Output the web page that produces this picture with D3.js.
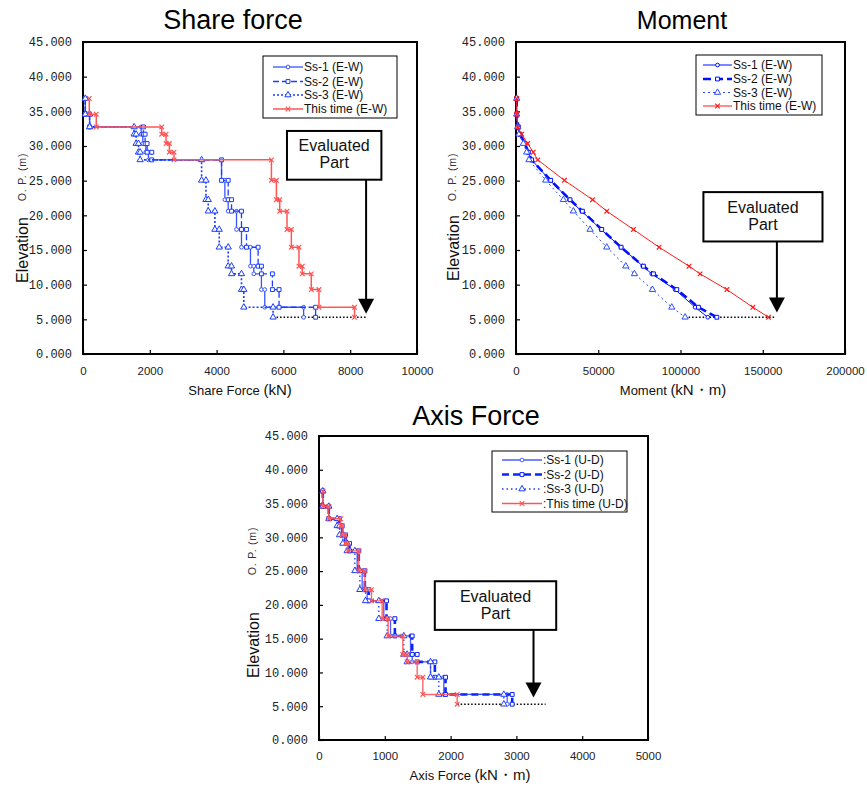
<!DOCTYPE html>
<html><head><meta charset="utf-8">
<script src="https://cdn.jsdelivr.net/npm/d3@7"></script>
<style>body{margin:0;background:#fff}svg{display:block}</style>
</head><body>
<script>
// ---------- DATA ----------
const levels = [36.85, 34.58, 32.75, 31.70, 30.35, 29.10, 28.00, 25.05, 22.25, 20.60, 17.96, 15.40, 12.67, 11.56, 9.29, 6.74, 5.30];
const elevTicks = [0, 5, 10, 15, 20, 25, 30, 35, 40, 45];

// Share force (kN) per storey segment (levels[i] -> levels[i+1])
const shearSs1 = [69, 198, 1740, 1790, 1880, 1960, 4148, 4248, 4347, 4596, 4745, 5014, 5114, 5342, 5442, 6606];
const shearSs2 = [69, 198, 1810, 1860, 1920, 2059, 4148, 4347, 4447, 4745, 4895, 5243, 5342, 5671, 5870, 6964];
const shearSs3 = [69, 198, 1531, 1591, 1661, 1711, 3551, 3681, 3750, 3949, 4079, 4347, 4447, 4745, 4815, 5691];
const shearNow = [188, 397, 2357, 2487, 2586, 2725, 5641, 5790, 5890, 6108, 6238, 6466, 6566, 6835, 7064, 8129];
const shearTicks = [0, 2000, 4000, 6000, 8000, 10000];

// Moment (kN·m) at each level
const momSs1 = [405, 405, 1014, 1825, 5069, 7097, 9530, 20682, 32440, 39946, 51707, 63875, 77057, 82532, 96727, 108895, 116600];
const momSs2 = [405, 405, 1420, 2433, 5475, 7502, 9530, 21087, 32846, 40352, 52113, 63875, 77462, 83545, 97741, 110922, 122075];
const momSs3 = [405, 405, 1014, 1825, 4460, 6488, 7908, 18046, 28790, 34873, 45016, 55155, 66714, 71987, 82937, 94700, 102811];
const momNow = [400, 400, 1000, 3450, 7100, 10500, 13200, 29400, 46600, 55200, 71400, 87000, 105200, 111900, 128200, 144000, 153500];
const momentTicks = [0, 50000, 100000, 150000, 200000];

// Axis force per storey segment
const axSs1 = [58, 149, 301, 342, 393, 453, 580, 656, 732, 985, 1087, 1391, 1416, 1695, 1897, 2860];
const axSs2 = [58, 149, 312, 352, 403, 464, 605, 697, 757, 1026, 1153, 1416, 1492, 1761, 1923, 2936];
const axSs3 = [58, 149, 276, 312, 362, 428, 545, 621, 707, 909, 1036, 1289, 1340, 1695, 1821, 2809];
const axNow = [58, 149, 327, 352, 403, 438, 605, 697, 798, 960, 1051, 1274, 1340, 1492, 1578, 2100];
const axialTicks = [0, 1000, 2000, 3000, 4000, 5000];

const namesEW = ["Ss-1 (E-W)", "Ss-2 (E-W)", "Ss-3 (E-W)", "This time (E-W)"];
const namesUD = [":Ss-1 (U-D)", ":Ss-2 (U-D)", ":Ss-3 (U-D)", ":This time (U-D)"];
const noteLines = ["Evaluated", "Part"];

// ---------- DRAWING ----------
const svg = d3.select("body").append("svg").attr("width", 867).attr("height", 786);
svg.append("rect").attr("width", 867).attr("height", 786).attr("fill", "#fff");
const SANS = "'Liberation Sans', Arial, sans-serif";
const MONO = "'Liberation Mono', 'DejaVu Sans Mono', monospace";

function staircase(vals) {
  const pts = [];
  vals.forEach((v, i) => { pts.push([v, levels[i]]); pts.push([v, levels[i + 1]]); });
  return pts;
}
function profile(vals) { return vals.map((v, i) => [v, levels[i]]); }

function marker(g, type, color, cx, cy) {
  if (type === "cross") {
    const s = 2.3;
    g.append("path").attr("d", `M${cx - s},${cy - s}L${cx + s},${cy + s}M${cx - s},${cy + s}L${cx + s},${cy - s}`)
      .attr("stroke", color).attr("stroke-width", 1.2).attr("fill", "none");
  } else {
    const sym = type === "circle" ? d3.symbolCircle : type === "square" ? d3.symbolSquare : d3.symbolTriangle;
    const size = type === "circle" ? 11 : type === "square" ? 15 : 17;
    g.append("path").attr("d", d3.symbol().type(sym).size(size)())
      .attr("transform", `translate(${cx},${cy})`)
      .attr("fill", "#fff").attr("stroke", color).attr("stroke-width", 1);
  }
}

function drawChart(cfg) {
  const x = d3.scaleLinear().domain([0, cfg.xmax]).range([cfg.l, cfg.r]);
  const y = d3.scaleLinear().domain([0, 45]).range([cfg.b, cfg.t]);
  const g = svg.append("g");

  // axes
  const xa = g.append("g").attr("transform", `translate(0,${cfg.b})`)
    .call(d3.axisBottom(x).tickValues(cfg.ticks).tickSizeInner(-4).tickSizeOuter(0).tickPadding(cfg.xPad).tickFormat(d3.format("d")));
  xa.select(".domain").remove();
  xa.selectAll("line").attr("stroke", "#000").attr("stroke-width", 1.2);
  xa.selectAll("text").attr("font-family", SANS).attr("font-size", 11.5).attr("fill", "#222");
  const ya = g.append("g").attr("transform", `translate(${cfg.l},0)`)
    .call(d3.axisLeft(y).tickValues(elevTicks).tickSizeInner(-4).tickSizeOuter(0).tickPadding(11).tickFormat(d3.format(".3f")));
  ya.select(".domain").remove();
  ya.selectAll("line").attr("stroke", "#000").attr("stroke-width", 1.2);
  ya.selectAll("text").attr("font-family", MONO).attr("font-size", 12).attr("fill", "#222");

  // frame
  g.append("rect").attr("x", cfg.l).attr("y", cfg.t).attr("width", cfg.r - cfg.l).attr("height", cfg.b - cfg.t)
    .attr("fill", "none").attr("stroke", "#000").attr("stroke-width", 2);

  // reference dotted line at base level
  const lastVals = cfg.series.map(s => s.vals[s.vals.length - 1]);
  g.append("line").attr("x1", x(d3.min(lastVals))).attr("x2", x(cfg.note.dotEnd))
    .attr("y1", y(levels[levels.length - 1])).attr("y2", y(levels[levels.length - 1]))
    .attr("stroke", "#000").attr("stroke-width", 1.5).attr("stroke-dasharray", "1.5,2");

  // series
  const line = d3.line().x(d => x(d[0])).y(d => y(d[1]));
  cfg.series.forEach((s, k) => {
    const st = cfg.styles[k];
    const pts = cfg.step ? staircase(s.vals) : profile(s.vals);
    g.append("path").attr("d", line(pts)).attr("fill", "none").attr("stroke", st.color)
      .attr("stroke-width", st.width).attr("stroke-dasharray", st.dash || null).attr("opacity", st.op || 1);
    const mg = g.append("g");
    pts.forEach(p => marker(mg, st.marker, st.color, x(p[0]), y(p[1])));
  });

  // annotation
  const n = cfg.note;
  const bx0 = x(n.x0), bx1 = x(n.x1), by0 = y(n.top), by1 = y(n.bot);
  g.append("rect").attr("x", bx0).attr("y", by0).attr("width", bx1 - bx0).attr("height", by1 - by0)
    .attr("fill", "#fff").attr("stroke", "#000").attr("stroke-width", 2);
  const cy = (by0 + by1) / 2;
  noteLines.forEach((t, i) => {
    g.append("text").attr("x", (bx0 + bx1) / 2).attr("y", cy - 4 + i * 17).attr("text-anchor", "middle")
      .attr("font-family", SANS).attr("font-size", 16).attr("fill", "#111").text(t);
  });
  const ax = x(n.arrowX), tip = y(n.tip);
  g.append("line").attr("x1", ax).attr("x2", ax).attr("y1", by1).attr("y2", tip - 14)
    .attr("stroke", "#000").attr("stroke-width", 2);
  g.append("path").attr("d", `M${ax - 8},${tip - 15}L${ax + 8},${tip - 15}L${ax},${tip}Z`).attr("fill", "#000");

  // legend
  const L = cfg.legend;
  g.append("rect").attr("x", L.x0).attr("y", L.y0).attr("width", L.x1 - L.x0).attr("height", L.y1 - L.y0)
    .attr("fill", "#fff").attr("stroke", "#000").attr("stroke-width", 1);
  cfg.names.forEach((nm, k) => {
    const st = cfg.styles[k];
    const ry = L.rows[k];
    g.append("line").attr("x1", L.lx0).attr("x2", L.lx1).attr("y1", ry).attr("y2", ry)
      .attr("stroke", st.color).attr("stroke-width", st.width).attr("stroke-dasharray", st.dash || null);
    marker(g, st.marker, st.color, (L.lx0 + L.lx1) / 2 + (L.mOff || 0), ry);
    g.append("text").attr("x", L.lx1 + 1).attr("y", ry + 4).attr("font-family", SANS).attr("font-size", 12)
      .attr("fill", "#111").text(nm);
  });

  // titles & labels
  g.append("text").attr("x", cfg.title.x).attr("y", cfg.title.y).attr("text-anchor", "middle")
    .attr("font-family", SANS).attr("font-size", cfg.title.size).attr("fill", "#000").text(cfg.title.text);
  const xl = g.append("text").attr("x", cfg.xlab.x).attr("y", cfg.xlab.y).attr("text-anchor", "middle")
    .attr("font-family", SANS).attr("fill", "#111");
  xl.append("tspan").attr("font-size", 13).text(cfg.xlab.a);
  xl.append("tspan").attr("font-size", 15).text(cfg.xlab.b);
  g.append("text").attr("transform", `translate(${cfg.ylab.x},${cfg.ylab.ey}) rotate(-90)`)
    .attr("text-anchor", "middle").attr("dominant-baseline", "central")
    .attr("font-family", SANS).attr("font-size", 16).attr("fill", "#111").text("Elevation");
  g.append("text").attr("transform", `translate(${cfg.ylab.x - 1},${cfg.ylab.oy}) rotate(-90)`)
    .attr("text-anchor", "middle").attr("dominant-baseline", "central")
    .attr("font-family", SANS).attr("font-size", 10.5).attr("letter-spacing", 0.8).attr("fill", "#333").text("O. P. (m)");
}

const stylesLight = [
  { color: "#3a55ff", width: 1.3, marker: "circle" },
  { color: "#1a3cff", width: 1.3, dash: "6,3", marker: "square" },
  { color: "#1a3cff", width: 1.6, dash: "2,2", marker: "triangle" },
  { color: "#ff5555", width: 1.5, marker: "cross" }
];
const stylesMoment = [
  { color: "#0010ff", width: 1, marker: "circle" },
  { color: "#0010ff", width: 2.6, dash: "8,4", marker: "square" },
  { color: "#2a4cff", width: 1, dash: "2,3", marker: "triangle" },
  { color: "#ff1a1a", width: 1, marker: "cross" }
];
const stylesAxis = [
  { color: "#4a5cff", width: 1.3, marker: "circle" },
  { color: "#0a24ff", width: 2.6, dash: "7,4", marker: "square" },
  { color: "#1a3cff", width: 1.3, dash: "1.5,3", marker: "triangle" },
  { color: "#ff5555", width: 1.4, marker: "cross", op: 0.9 }
];

drawChart({
  l: 83, r: 417, t: 42, b: 354, xmax: 10000, ticks: shearTicks, xPad: 13, step: true,
  series: [{ vals: shearSs1 }, { vals: shearSs2 }, { vals: shearSs3 }, { vals: shearNow }],
  styles: stylesLight, names: namesEW,
  note: { x0: 6107, x1: 8934, top: 32.17, bot: 25.14, arrowX: 8476, tip: 5.8, dotEnd: 8476 },
  legend: { x0: 263, x1: 397, y0: 56, y1: 118, rows: [67, 81.5, 95, 109], lx0: 273, lx1: 303 },
  title: { text: "Share force", x: 233, y: 29, size: 27 },
  xlab: { x: 240, y: 395, a: "Share Force ", b: "(kN)" },
  ylab: { x: 22.5, ey: 250, oy: 177 }
});
drawChart({
  l: 516, r: 845, t: 42, b: 354, xmax: 200000, ticks: momentTicks, xPad: 13, step: false,
  series: [{ vals: momSs1 }, { vals: momSs2 }, { vals: momSs3 }, { vals: momNow }],
  styles: stylesMoment, names: namesEW,
  note: { x0: 113930, x1: 186314, top: 23.35, bot: 16.23, arrowX: 158600, tip: 6.0, dotEnd: 157500 },
  legend: { x0: 696, x1: 822, y0: 55, y1: 115, rows: [65, 79, 92.5, 106], lx0: 703, lx1: 732 },
  title: { text: "Moment", x: 682, y: 29, size: 25 },
  xlab: { x: 673, y: 395, a: "Moment ", b: "(kN・m)" },
  ylab: { x: 453, ey: 248, oy: 177 }
});
drawChart({
  l: 319, r: 648, t: 436, b: 740, xmax: 5000, ticks: axialTicks, xPad: 12, step: true,
  series: [{ vals: axSs1 }, { vals: axSs2 }, { vals: axSs3 }, { vals: axNow }],
  styles: stylesAxis, names: namesUD,
  note: { x0: 1760, x1: 3605, top: 23.5, bot: 16.3, arrowX: 3260, tip: 6.3, dotEnd: 3443 },
  legend: { x0: 492, x1: 627, y0: 451, y1: 512, rows: [460, 474.5, 489, 503.5], lx0: 502, lx1: 542 },
  title: { text: "Axis Force", x: 476, y: 425, size: 27 },
  xlab: { x: 470, y: 780, a: "Axis Force ", b: "(kN・m)" },
  ylab: { x: 253, ey: 645, oy: 551 }
});
</script>
</body></html>
